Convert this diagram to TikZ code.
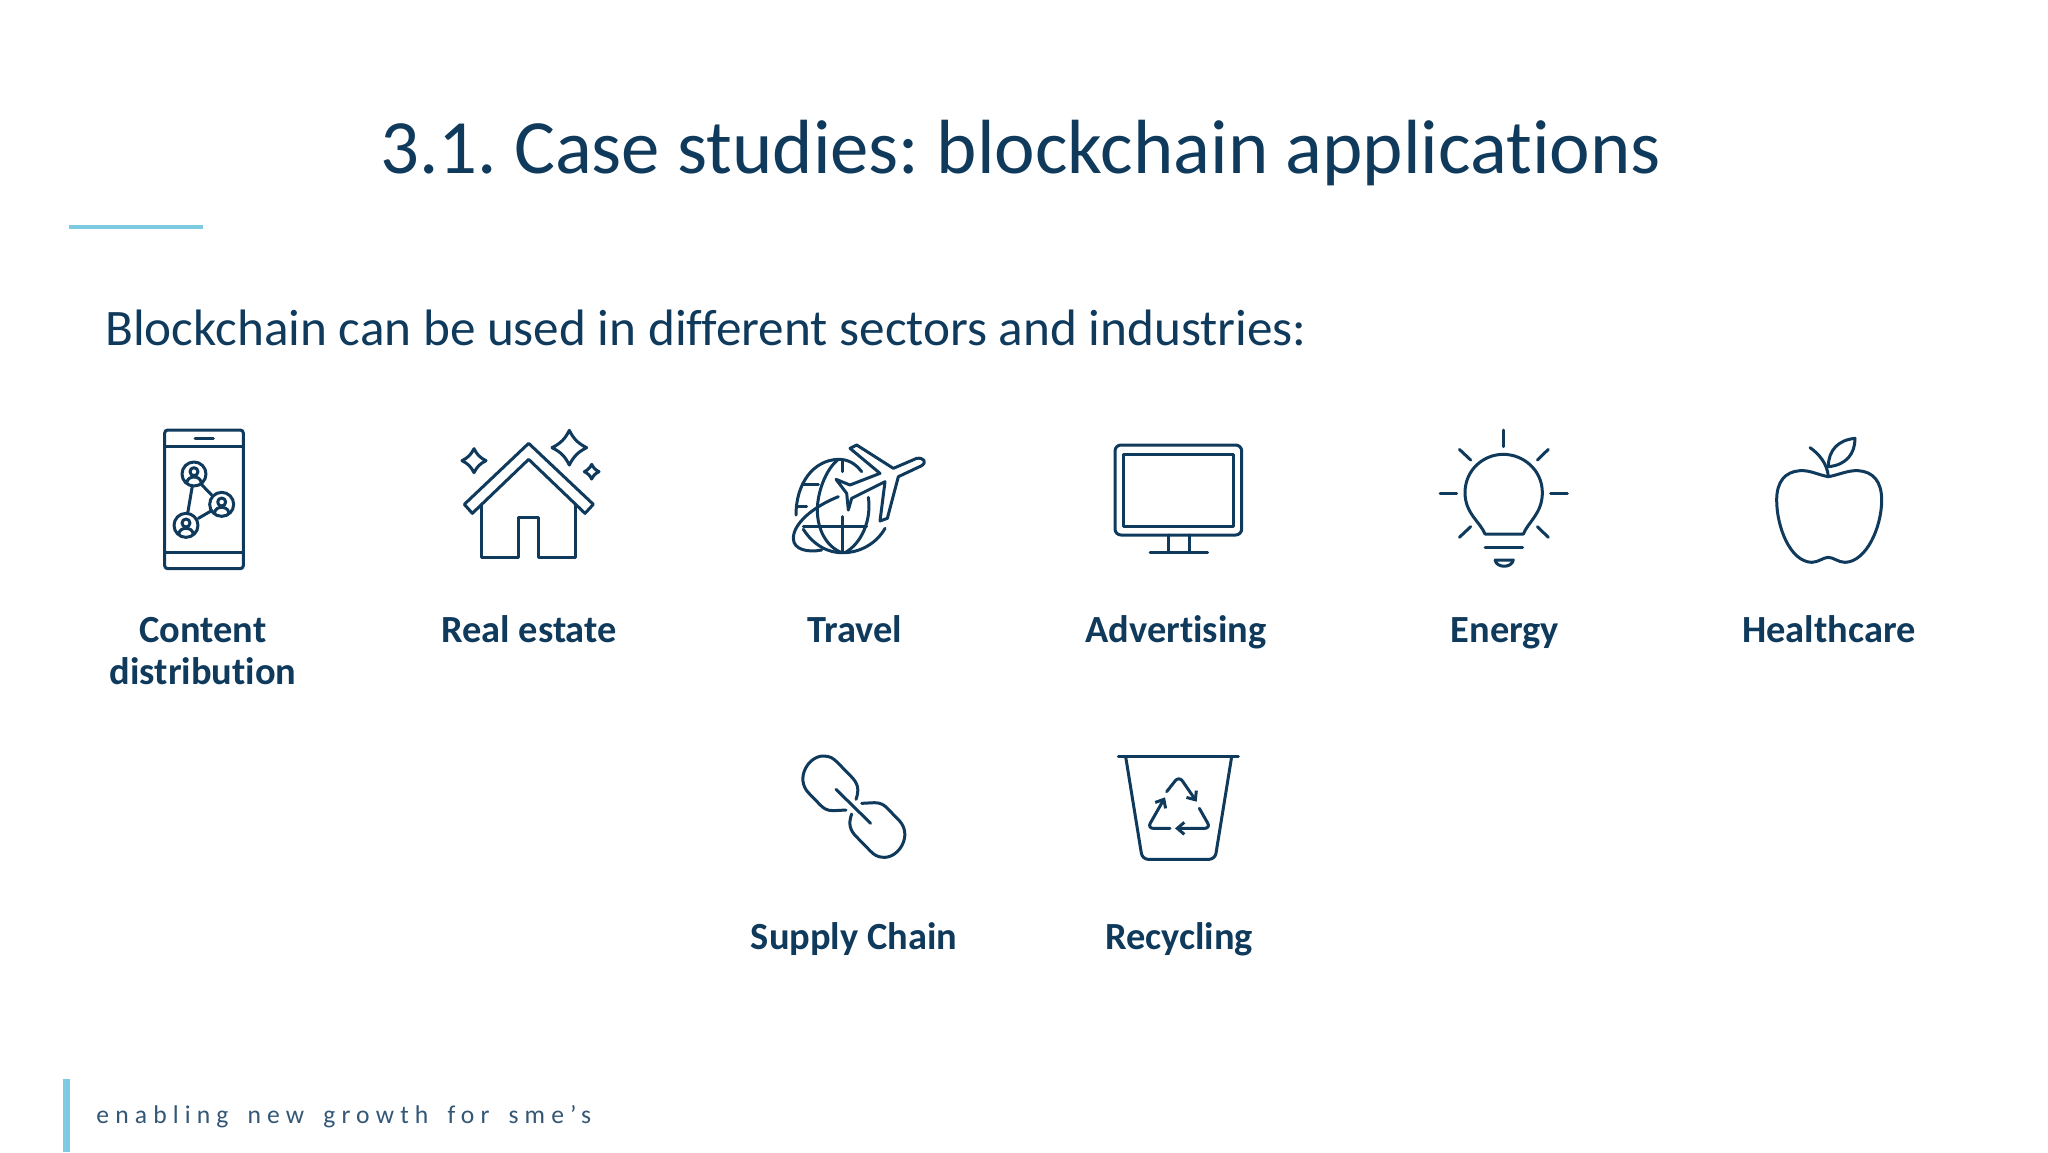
\documentclass[tikz,border=0pt]{standalone}
\usepackage{fontspec}
\setmainfont{Carlito}[Ligatures=NoCommon]
\newfontfamily\footfont[LetterSpace=24, WordSpace=1.6, Ligatures=NoCommon]{Carlito}
\usetikzlibrary{arrows.meta}
\definecolor{navy}{HTML}{0F3A5C}
\definecolor{skyline}{HTML}{7CCBE3}
\frenchspacing
\tikzset{
	iconline/.style={draw=navy, line width=1.5pt, line join=round, line cap=round},
	sectorlabel/.style={font=\bfseries\fontsize{19.2}{21}\selectfont, text=navy, align=center, inner sep=0pt, anchor=base},
}
\begin{document}
\begin{tikzpicture}[x=0.5pt, y=-0.5pt]
	\useasboundingbox (0,0) rectangle (2048,1152);
	\fill[white] (0,0) rectangle (2048,1152);

	\node[font=\fontsize{38.4}{40}\selectfont, text=navy, inner sep=0pt, anchor=base] (title) at (1020.5,173) {3.1. Case studies: blockchain applications};
	\node[font=\fontsize{25.6}{28}\selectfont, text=navy, inner sep=0pt, anchor=base west] (intro) at (105,345) {Blockchain can be used in different sectors and industries:};
	\node[font=\footfont\fontsize{12.8}{14}\selectfont, text=navy!85, inner sep=0pt, anchor=base west] (footer) at (96,1123) {enabling new growth for sme’s};
	\fill[skyline] (69,225) rectangle (203,229);
	\fill[skyline] (63,1079) rectangle (70,1152);

	\node[sectorlabel] (content) at (203,684) {Content\\distribution};
	\node[sectorlabel] (estate) at (529,642) {Real estate};
	\node[sectorlabel] (travel) at (855,642) {Travel};
	\node[sectorlabel] (advertising) at (1176,642) {Advertising};
	\node[sectorlabel] (energy) at (1505,642) {Energy};
	\node[sectorlabel] (healthcare) at (1829,642) {Healthcare};
	\node[sectorlabel] (supply) at (854,949) {Supply Chain};
	\node[sectorlabel] (recycling) at (1179,949) {Recycling};

	\begin{scope}[shift={(130,410)}, scale=1/3, every path/.style={iconline}]
		\draw[rounded corners=1.5pt] (104,60) rectangle (340,476);
		\draw (104,108) -- (340,108);
		\draw (104,428) -- (340,428);
		\draw (195,86) -- (250,86);
		\foreach \cx/\cy in {192/192, 275/283, 168/346} {
			\draw (\cx,\cy) circle[radius=36];
			\draw (\cx,\cy-7) circle[radius=12];
			\draw (\cx-21,\cy+24) .. controls (\cx-18,\cy+4) and (\cx+18,\cy+4) .. (\cx+21,\cy+24);
		}
		\draw (187,228) -- (173,310);
		\draw (213,222) -- (245,255);
		\draw (205,325) -- (243,303);

		\draw (1027,310) -- (1003,283) -- (1196,100) -- (1390,283) -- (1365,310) -- (1196,148) -- cycle;
		\draw (1055,283) -- (1055,442) -- (1165,442) -- (1165,322) -- (1225,322) -- (1225,442) -- (1337,442) -- (1337,283);
		\foreach \sx/\sy/\sr in {1032/152/36, 1318/113/52, 1385/185/22} {
			\draw (\sx,\sy-\sr) .. controls (\sx+0.25*\sr,\sy-0.5*\sr) and (\sx+0.5*\sr,\sy-0.25*\sr) .. (\sx+\sr,\sy)
				.. controls (\sx+0.5*\sr,\sy+0.25*\sr) and (\sx+0.25*\sr,\sy+0.5*\sr) .. (\sx,\sy+\sr)
				.. controls (\sx-0.25*\sr,\sy+0.5*\sr) and (\sx-0.5*\sr,\sy+0.25*\sr) .. (\sx-\sr,\sy)
				.. controls (\sx-0.5*\sr,\sy-0.25*\sr) and (\sx-0.25*\sr,\sy-0.5*\sr) .. cycle;
		}
	\end{scope}

	\begin{scope}[shift={(770,410)}, scale=1/3, every path/.style={iconline}]
		\draw (240,115) -- (260,105) -- (370,175) -- (440,145) .. controls (460,142) and (472,155) .. (455,167) -- (385,200) -- (352,325) -- (330,333) -- (345,215) -- (245,265) -- (235,300) -- (230,250) -- (198,208) -- (240,225) -- (330,190) -- cycle;
		\draw (275,185) .. controls (255,160) and (235,148) .. (205,148) .. controls (130,150) and (78,220) .. (78,315);
		\draw (100,358) .. controls (130,405) and (175,430) .. (220,428) .. controls (270,428) and (320,400) .. (345,355);
		\draw (205,148) .. controls (165,180) and (142,250) .. (142,300) .. controls (142,360) and (170,410) .. (215,428);
		\draw (295,262) .. controls (305,330) and (275,400) .. (225,428);
		\draw (205,260) .. controls (130,290) and (70,340) .. (70,385) .. controls (70,420) and (115,428) .. (155,420);
		\draw (218,150) -- (218,185);
		\draw (218,320) -- (218,428);
		\draw (100,222) -- (145,222);
		\draw (80,288) -- (110,288);
		\draw (100,350) -- (290,350);

		\draw[rounded corners=3pt] (1035,105) rectangle (1415,375);
		\draw (1060,133) rectangle (1390,348);
		\draw (1195,375) -- (1195,428);
		\draw (1257,375) -- (1257,428);
		\draw (1140,428) -- (1313,428);
	\end{scope}

	\begin{scope}[shift={(1420,410)}, scale=1/3, every path/.style={iconline}]
		\draw (195,372) .. controls (180,335) and (135,310) .. (135,248) .. controls (135,180) and (190,133) .. (250,133) .. controls (310,133) and (367,180) .. (367,248) .. controls (367,310) and (325,335) .. (310,372) -- cycle;
		\draw (250,60) -- (250,110);
		\draw (60,250) -- (110,250);
		\draw (392,250) -- (442,250);
		\draw (118,118) -- (152,150);
		\draw (385,118) -- (352,150);
		\draw (118,382) -- (152,350);
		\draw (385,382) -- (352,350);
		\draw (195,412) -- (308,412);
		\draw (225,450) -- (280,450) .. controls (275,475) and (230,475) .. cycle;

		\draw (1225,200) .. controls (1195,195) and (1170,180) .. (1140,182) .. controls (1095,185) and (1070,215) .. (1070,270) .. controls (1070,350) and (1110,455) .. (1175,457) .. controls (1195,457) and (1210,442) .. (1225,442) .. controls (1240,442) and (1255,457) .. (1275,457) .. controls (1340,455) and (1385,350) .. (1385,270) .. controls (1385,215) and (1360,185) .. (1315,182) .. controls (1285,180) and (1255,195) .. (1225,200) -- cycle;
		\draw (1170,113) .. controls (1195,130) and (1222,160) .. (1225,200);
		\draw (1225,170) .. controls (1225,120) and (1255,90) .. (1305,85) .. controls (1305,130) and (1280,165) .. (1225,170);
	\end{scope}

	\begin{scope}[shift={(780,740)}, scale=1/3, every path/.style={iconline}]
		\foreach \turn in {0,180} {
			\draw[rotate around={\turn:(221.5,200)}] (198,210) -- (160,212) .. controls (140,212) and (130,205) .. (118,192) -- (85,158) .. controls (45,115) and (85,48) .. (130,48) .. controls (150,48) and (160,55) .. (172,67) -- (212,108) .. controls (235,130) and (238,150) .. (228,178);
		}
		\draw (168,148) -- (272,250);

		\draw (1015,50) -- (1375,50);
		\draw[rounded corners=3pt] (1037,50) -- (1087,358) -- (1305,358) -- (1355,50);
		\draw[-{Straight Barb[length=3.5pt, width=6pt]}, rounded corners=3pt] (1160,155) -- (1197,108) -- (1250,185);
		\draw[-{Straight Barb[length=3.5pt, width=6pt]}, rounded corners=3pt] (1258,205) -- (1292,265) -- (1185,265);
		\draw[-{Straight Barb[length=3.5pt, width=6pt]}, rounded corners=3pt] (1170,265) -- (1102,265) -- (1155,172);
	\end{scope}
\end{tikzpicture}
\end{document}
